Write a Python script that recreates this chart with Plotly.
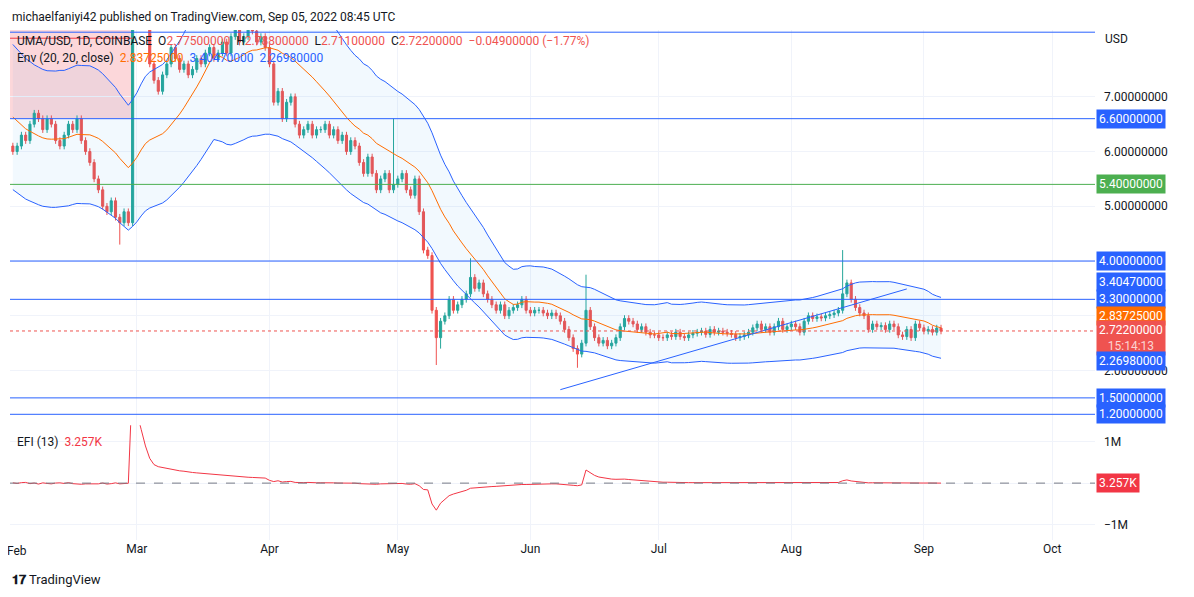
import pandas as pd
import plotly.graph_objects as go
from plotly.subplots import make_subplots

# ---- data ----
warmup_close = [7.6, 7.8, 7.5, 7.4, 7.7, 7.3, 7.1, 7.0, 6.6, 6.2, 5.9, 6.3, 6.0, 5.8, 6.1, 6.3, 6.0, 5.9, 6.1]
close_jan = [6.0]
close_feb = [6.1, 6.3, 6.2, 6.5, 6.7, 6.6, 6.4, 6.6, 6.5, 6.2, 6.1, 6.3, 6.5, 6.4, 6.6, 6.2, 6.0, 5.8, 5.5, 5.3,
             5.0, 4.9, 5.1, 4.8, 4.7, 4.9, 4.7, 8.3]
close_mar = [8.6, 8.9, 8.4, 7.6, 7.3, 7.1, 7.4, 7.6, 7.9, 7.7, 7.5, 7.6, 7.4, 7.5, 7.7, 7.6, 7.8, 7.9, 7.7, 7.8,
             8.0, 7.8, 8.1, 8.3, 8.0, 8.1, 8.4, 8.2, 8.0, 8.1, 7.9]
close_apr = [7.6, 6.9, 7.1, 6.6, 6.9, 7.0, 6.5, 6.3, 6.4, 6.5, 6.3, 6.4, 6.4, 6.5, 6.3, 6.4, 6.2, 6.3, 6.0, 6.2,
             6.1, 5.8, 5.6, 5.9, 5.6, 5.3, 5.5, 5.6, 5.3, 5.4]
close_may = [5.5, 5.6, 5.3, 5.2, 5.5, 4.9, 4.2, 4.1, 3.1, 2.6, 2.9, 3.0, 3.3, 3.1, 3.2, 3.3, 3.4, 3.7, 3.5, 3.6,
             3.4, 3.3, 3.2, 3.1, 3.2, 3.0, 3.1, 3.15, 3.2, 3.3, 3.1]
close_jun = [3.05, 3.1, 3.1, 3.05, 3.0, 3.05, 3.0, 2.9, 2.75, 2.6, 2.4, 2.3, 2.5, 3.1, 2.8, 2.6, 2.5, 2.55, 2.45, 2.5,
             2.6, 2.8, 2.95, 2.9, 2.85, 2.75, 2.8, 2.7, 2.65, 2.65]
close_jul = [2.6, 2.6, 2.65, 2.62, 2.7, 2.62, 2.6, 2.65, 2.68, 2.7, 2.72, 2.66, 2.75, 2.7, 2.72, 2.7, 2.68, 2.66, 2.6, 2.62,
             2.65, 2.7, 2.78, 2.85, 2.75, 2.8, 2.7, 2.8, 2.9, 2.75, 2.8]
close_aug = [2.85, 2.8, 2.7, 2.9, 3.0, 2.95, 2.98, 2.96, 3.0, 3.02, 3.05, 3.1, 3.4, 3.6, 3.3, 3.15, 3.05, 3.0, 2.75, 2.85,
             2.8, 2.82, 2.75, 2.85, 2.8, 2.65, 2.62, 2.75, 2.6, 2.85, 2.78]
close_sep = [2.72, 2.75, 2.7, 2.775, 2.722]

# notable wick extremes
wick_high = {"2022-08-13": 4.2, "2022-05-18": 4.05, "2022-06-14": 3.75, "2022-04-30": 6.6}
wick_low = {"2022-05-10": 2.1, "2022-06-12": 2.05, "2022-02-25": 4.3, "2022-05-11": 2.4}

# EFI(13) in thousands, Jan 31 .. Sep 5
efi_k = [10, -5, 15, 20, -10, 5, -20, 10, -5, -15, 5, 10, -5, 15, -10, -20, -25, -15, -20, -10, -15, 5, -20, -10, 10, -15, -5, 0,
         2600,
         1700, 1300, 900, 600, 450, 400, 380, 350, 330, 320, 300, 290, 270, 260, 250, 240, 230, 220, 210, 200, 190, 185, 180, 170, 160, 150, 145, 140, 135, 130, 125,
         70, 40, 60, 30, 40, 45, 20, 10, 15, 20, 10, 12, 12, 15, 8, 10, 5, 8, -5, 5, 2, -10, -15, -5, -15, -25, -15, -10, -20, -15,
         -10, -5, -20, -25, -10, -60, -150, -160, -500, -650, -480, -400, -300, -260, -230, -200, -170, -120, -110, -95, -90, -85, -80, -75, -65, -60, -55, -50, -40, -30, -30,
         -25, -20, -20, -20, -20, -15, -15, -20, -30, -40, -50, -60, -40, 320, 250, 190, 150, 130, 110, 100, 95, 100, 100, 90, 80, 70, 65, 55, 45, 40,
         30, 25, 25, 20, 25, 20, 15, 15, 15, 15, 15, 10, 15, 10, 10, 8, 6, 4, 0, 2, 5, 8, 12, 15, 10, 12, 8, 12, 15, 10, 10,
         12, 10, 6, 12, 15, 13, 13, 12, 12, 12, 14, 18, 60, 80, 55, 40, 30, 25, 10, 12, 10, 10, 8, 10, 8, 5, 4, 6, 3, 8, 6,
         5, 6, 4, 5, 3]

levels = [6.6, 4.0, 3.3, 1.5, 1.2]
support_level = 5.4
top_level = 8.18
last_price = 2.722
trend_dates = ["2022-06-08", "2022-08-28"]
trend_prices = [1.65, 3.49]

# ---- build series ----
closes = warmup_close + close_jan + close_feb + close_mar + close_apr + close_may + close_jun + close_jul + close_aug + close_sep
dates = pd.date_range("2022-01-12", periods=len(closes), freq="D")
df = pd.DataFrame({"close": closes}, index=dates)
df["open"] = df["close"].shift(1)
df.loc[df.index[-1], "open"] = 2.775
pad = 0.06
df["high"] = df[["open", "close"]].max(axis=1) + pad
df["low"] = df[["open", "close"]].min(axis=1) - pad
for d, v in wick_high.items():
    df.loc[d, "high"] = v
for d, v in wick_low.items():
    df.loc[d, "low"] = v
df["basis"] = df["close"].rolling(20).mean()
df["upper"] = df["basis"] * 1.2
df["lower"] = df["basis"] * 0.8
df = df.loc["2022-01-31":]
df["efi"] = [v * 1000 for v in efi_k]

UP, DOWN, BLUE = "#26a69a", "#ef5350", "#2962ff"

fig = make_subplots(rows=2, cols=1, shared_xaxes=True, vertical_spacing=0, row_heights=[0.775, 0.225])

fig.add_trace(go.Scatter(x=df.index, y=df["upper"], mode="lines", line=dict(color=BLUE, width=1), hoverinfo="skip"), 1, 1)
fig.add_trace(go.Scatter(x=df.index, y=df["lower"], mode="lines", line=dict(color=BLUE, width=1),
                         fill="tonexty", fillcolor="rgba(33,150,243,0.06)", hoverinfo="skip"), 1, 1)
fig.add_trace(go.Scatter(x=df.index, y=df["basis"], mode="lines", line=dict(color="#ff6d00", width=1), hoverinfo="skip"), 1, 1)
fig.add_trace(go.Candlestick(x=df.index, open=df["open"], high=df["high"], low=df["low"], close=df["close"],
                             increasing=dict(line=dict(color=UP, width=1), fillcolor=UP),
                             decreasing=dict(line=dict(color=DOWN, width=1), fillcolor=DOWN),
                             whiskerwidth=0), 1, 1)
fig.add_trace(go.Scatter(x=trend_dates, y=trend_prices, mode="lines", line=dict(color=BLUE, width=1)), 1, 1)
fig.add_trace(go.Scatter(x=df.index, y=df["efi"], mode="lines", line=dict(color="#f23645", width=1)), 2, 1)

x0, x1 = "2022-01-30 08:00", "2022-10-11"
for lv in levels:
    fig.add_shape(type="line", xref="x", yref="y", x0=x0, x1=x1, y0=lv, y1=lv, line=dict(color=BLUE, width=1))
fig.add_shape(type="line", xref="x", yref="y", x0=x0, x1=x1, y0=support_level, y1=support_level, line=dict(color="#4caf50", width=1))
fig.add_shape(type="line", xref="x", yref="y", x0=x0, x1=x1, y0=top_level, y1=top_level, line=dict(color=BLUE, width=1))
fig.add_shape(type="rect", xref="x", yref="y", x0=x0, x1="2022-02-28", y0=6.6, y1=8.3,
              fillcolor="rgba(242,54,69,0.2)", line=dict(width=0), layer="below")
fig.add_shape(type="line", xref="x", yref="y", x0=x0, x1="2022-02-28", y0=8.07, y1=8.07, line=dict(color="#f23645", width=1))
fig.add_shape(type="line", xref="x", yref="y", x0=x0, x1=x1, y0=last_price, y1=last_price,
              line=dict(color=DOWN, width=1, dash="dot"))
fig.add_shape(type="line", xref="x", yref="y2", x0=x0, x1=x1, y0=3257, y1=3257,
              line=dict(color="#787b86", width=1, dash="dash"))

grid = "#f0f3fa"
fig.update_xaxes(range=[x0, x1], showgrid=True, gridcolor=grid, rangeslider_visible=False, automargin=False,
                 tickvals=["2022-03-01", "2022-04-01", "2022-05-01", "2022-06-01", "2022-07-01",
                           "2022-08-01", "2022-09-01", "2022-10-01"],
                 ticktext=["Mar", "Apr", "May", "Jun", "Jul", "Aug", "Sep", "Oct"],
                 tickfont=dict(size=12, color="#131722"), showline=False, zeroline=False)
fig.update_xaxes(showticklabels=False, row=1, col=1)
fig.update_yaxes(row=1, col=1, range=[1.0, 8.22], side="right", tickvals=[2, 5, 6, 7], tickformat=".8f",
                 showgrid=True, gridcolor=grid, zeroline=False, automargin=False, ticklabelstandoff=8,
                 tickfont=dict(size=12, color="#131722"))
fig.update_yaxes(row=1, col=1, minor=dict(tickvals=[3, 4], showgrid=True, gridcolor=grid, ticklen=0))
fig.update_yaxes(row=2, col=1, range=[-1.37e6, 1.4e6], side="right", tickvals=[-1e6, 0, 1e6],
                 ticktext=["−1M", "", "1M"], showgrid=True, gridcolor=grid, zeroline=False, automargin=False,
                 ticklabelstandoff=8, tickfont=dict(size=12, color="#131722"))

ann = []
def tag(y, text, bg, yref="y", fg="white"):
    ann.append(dict(x=1.0, xref="paper", y=y, yref=yref, text=text, showarrow=False, xanchor="left",
                    xshift=1, bgcolor=bg, font=dict(color=fg, size=12), borderpad=2))

for lv in levels:
    if lv != 3.3:
        tag(lv, f"{lv:.8f}", BLUE)
tag(support_level, f"{support_level:.8f}", "#4caf50")
# stacked price-scale labels, spread like TradingView does
tag(3.61, "3.40470000", BLUE)
tag(3.3, "3.30000000", BLUE)
tag(3.0, "2.83725000", "#ff6d00")
ann.append(dict(x=1.0, xref="paper", y=2.6, yref="y", text="2.72200000<br><span style='color:#fbd3d3'>15:14:13</span>",
                showarrow=False, xanchor="left", xshift=1, bgcolor=DOWN, font=dict(color="white", size=12), borderpad=2))
tag(2.17, "2.26980000", BLUE)
tag(3257, "3.257K", "#f23645", yref="y2")
ann.append(dict(x=1.0, xref="paper", y=8.05, yref="y", text="USD", showarrow=False, xanchor="left", xshift=8,
                font=dict(size=12, color="#131722")))
ann.append(dict(x="2022-02-01", xref="x", y=0, yref="paper", yanchor="top", yshift=-2, showarrow=False,
                text="Feb", font=dict(size=12, color="#131722")))
ann.append(dict(x=0, xref="paper", y=1.0, yref="paper", xanchor="left", yanchor="bottom", yshift=4, showarrow=False,
                text="michaelfaniyi42 published on TradingView.com, Sep 05, 2022 08:45 UTC",
                font=dict(size=12, color="#131722")))
ann.append(dict(x=0.005, xref="paper", y=8.02, yref="y", xanchor="left", yanchor="middle", showarrow=False,
                text="UMA/USD, 1D, COINBASE  O<span style='color:#ef5350'>2.77500000</span>  H<span style='color:#ef5350'>2.78800000</span>"
                     "  L<span style='color:#ef5350'>2.71100000</span>  C<span style='color:#ef5350'>2.72200000  −0.04900000 (−1.77%)</span>",
                font=dict(size=12, color="#131722")))
ann.append(dict(x=0.005, xref="paper", y=7.7, yref="y", xanchor="left", yanchor="middle", showarrow=False,
                text="Env (20, 20, close)  <span style='color:#ff6d00'>2.83725000</span>  <span style='color:#2962ff'>3.40470000</span>"
                     "  <span style='color:#2962ff'>2.26980000</span>",
                font=dict(size=12, color="#131722")))
ann.append(dict(x=0.005, xref="paper", y=1.0e6, yref="y2", xanchor="left", yanchor="middle", showarrow=False,
                text="EFI (13)  <span style='color:#f23645'>3.257K</span>", font=dict(size=12, color="#131722")))
ann.append(dict(x=0, xref="paper", y=0, yref="paper", xanchor="left", yanchor="top", yshift=-30, showarrow=False,
                text="<b>𝟏𝟕</b> TradingView", font=dict(size=13, color="#131722")))

# the page body adds an 8px margin, so offset the plot margins by that much
fig.update_layout(width=1194, height=597, margin=dict(l=2, r=107, t=22, b=65), plot_bgcolor="white",
                  paper_bgcolor="white", showlegend=False, annotations=ann,
                  font=dict(family="Roboto, Noto Sans, sans-serif"))

fig.write_html("out.html")
